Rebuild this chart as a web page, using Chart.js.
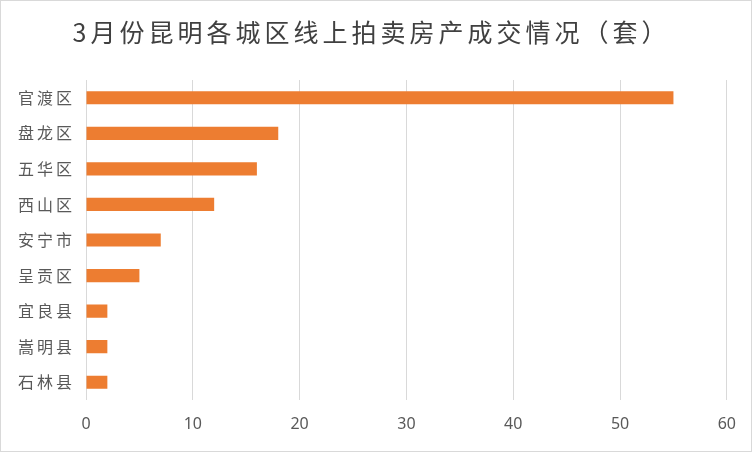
<!DOCTYPE html>
<html>
<head>
<meta charset="utf-8">
<script src="https://cdn.jsdelivr.net/npm/chart.js@4/dist/chart.umd.min.js"></script>
<style>
  html, body { margin: 0; padding: 0; background: #fff; }
  #wrap { width: 752px; height: 452px; box-sizing: border-box; border: 1px solid #d9d9d9; }
</style>
</head>
<body>
<div id="wrap"><canvas id="chart" width="750" height="450"></canvas></div>
<script>
// --- Data ---
const districts = ['官渡区', '盘龙区', '五华区', '西山区', '安宁市', '呈贡区', '宜良县', '嵩明县', '石林县'];
const deals = [55, 18, 16, 12, 7, 5, 2, 2, 2];
const xTicks = [0, 10, 20, 30, 40, 50, 60];

const CJK = "'Noto Sans CJK SC', sans-serif";
const NUM = "'Noto Sans', 'Noto Sans CJK SC', sans-serif";

const ctx = document.getElementById('chart').getContext('2d');

// Chinese labels are drawn spaced out, like the original; numbers are not
const fontDesc = Object.getOwnPropertyDescriptor(CanvasRenderingContext2D.prototype, 'font');
Object.defineProperty(ctx, 'font', {
    get() { return fontDesc.get.call(this); },
    set(v) {
        fontDesc.set.call(this, v);
        let sp = '0px';
        if (v.includes("25px 'Noto Sans CJK SC'")) sp = '4px';
        else if (v.includes("px 'Noto Sans CJK SC'")) sp = '3px';
        this.letterSpacing = sp;
    }
});

new Chart(ctx, {
    type: 'bar',
    data: {
        labels: districts,
        datasets: [{
            data: deals,
            backgroundColor: '#ed7d31',
            categoryPercentage: 1,
            barPercentage: 0.37
        }]
    },
    options: {
        indexAxis: 'y',
        responsive: false,
        animation: false,
        layout: { padding: { left: 15, right: 24, top: 0, bottom: 0 } },
        scales: {
            x: {
                min: 0, max: 60,
                afterBuildTicks: s => { s.ticks = xTicks.map(v => ({ value: v })); },
                afterFit: s => { s.height = 51; },
                grid: { color: '#d9d9d9', drawTicks: false },
                border: { display: false },
                ticks: { color: '#595959', padding: 15, font: { size: 16, family: NUM } }
            },
            y: {
                afterFit: s => { s.width = 70; },
                grid: { display: false, drawTicks: false },
                border: { display: false },
                ticks: { color: '#595959', padding: 11, font: { size: 16, family: CJK } }
            }
        },
        plugins: {
            legend: { display: false },
            tooltip: { enabled: false },
            title: {
                display: true,
                text: '3月份昆明各城区线上拍卖房产成交情况（套）',
                color: '#404040',
                font: { size: 25, family: CJK, weight: 'normal' },
                padding: { top: 16, bottom: 33 }
            }
        }
    }
});
</script>
</body>
</html>
